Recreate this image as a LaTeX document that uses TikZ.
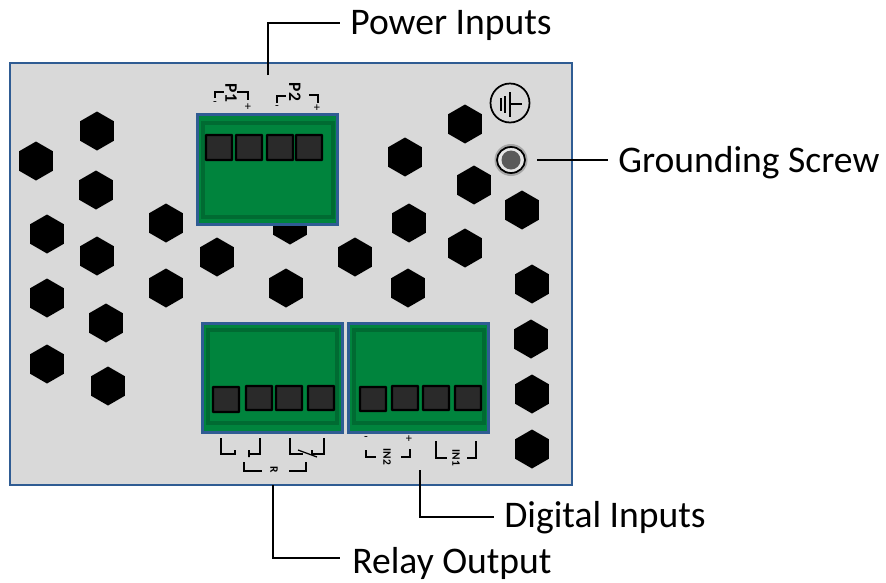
\documentclass[tikz,border=0pt]{standalone}
\usepackage{fontspec}
\setmainfont{Carlito}
\usetikzlibrary{shapes.geometric}
\tikzset{
	panel/.style={draw=panelblue, line width=0.55mm, fill=panelgray},
	hexhole/.style={regular polygon, regular polygon sides=6, regular polygon rotate=30, fill=black, minimum size=0.78cm, inner sep=0pt},
	blockouter/.style={draw=panelblue, line width=0.6mm, fill=blockgreen},
	blockinner/.style={draw=blockdark, line width=0.7mm},
	pinbox/.style={draw=black, line width=0.45mm, fill=pingray, rounded corners=0.1mm},
	leader/.style={draw=black, line width=0.35mm},
	tinyline/.style={draw=black, line width=0.25mm},
	biglabel/.style={font=\fontsize{21.4}{24}\selectfont, anchor=west, inner sep=0pt, inner xsep=0.2cm},
	pinlabel/.style={font=\fontsize{10}{11}\selectfont\bfseries, rotate=-90, inner sep=0pt},
	signlabel/.style={font=\fontsize{7}{8}\selectfont, inner sep=0pt},
	tinylabel/.style={font=\fontsize{6.5}{7}\selectfont\bfseries, rotate=-90, inner sep=0pt}
}
\definecolor{panelblue}{HTML}{2F5C93}
\definecolor{panelgray}{HTML}{D9D9D9}
\definecolor{blockgreen}{HTML}{00843D}
\definecolor{blockdark}{HTML}{006B32}
\definecolor{pingray}{HTML}{2A2A2A}
\definecolor{screwgray}{HTML}{5A5A5A}
\begin{document}
\begin{tikzpicture}[x=0.02cm, y=-0.02cm]
	\useasboundingbox (0, 0) rectangle (886, 582);

	% housing
	\draw[panel] (10, 63) rectangle (572, 485);

	% vent holes
	\foreach \hx/\hy in {97/131, 36/161, 96/190, 47/234, 97/256, 47/298, 106/323, 47/364, 108/386,
		166/223, 166/288, 217/257, 290/225, 286/288, 355/257, 408/288, 409/223, 405/157,
		465/124, 474/185, 522/210, 465/248, 532/284, 531/339, 532/394, 532/449}
		\node[hexhole] at (\hx, \hy) {};

	% power terminal
	\draw[blockouter] (197, 114) rectangle (337, 224);
	\draw[blockinner] (203, 123) rectangle (333, 217);
	\foreach \px in {206, 236, 267, 296}
		\draw[pinbox] (\px, 135) rectangle ++(26, 25);

	% relay terminal
	\draw[blockouter] (202, 323) rectangle (342, 432);
	\draw[blockinner] (208, 330) rectangle (337, 423);
	\draw[pinbox] (213, 387) rectangle ++(26, 25);
	\foreach \px in {246, 276, 308}
		\draw[pinbox] (\px, 386) rectangle ++(26, 24);

	% digital terminal
	\draw[blockouter] (348, 323) rectangle (488, 432);
	\draw[blockinner] (354, 330) rectangle (484, 423);
	\draw[pinbox] (360, 387) rectangle ++(26, 24);
	\foreach \px in {392, 423, 455}
		\draw[pinbox] (\px, 386) rectangle ++(26, 24);

	% power markings
	\draw[tinyline] (215, 98) -- (215, 92) -- (224, 92);
	\draw[tinyline] (237, 92) -- (248, 92) -- (248, 100);
	\draw[tinyline] (277, 103) -- (277, 96) -- (286, 96);
	\draw[tinyline] (309, 95) -- (318, 95) -- (318, 103);
	\node[pinlabel] (pone) at (231, 93) {P1};
	\node[pinlabel] (ptwo) at (295, 92) {P2};
	\node[signlabel] (poneminus) at (215, 104) {-};
	\node[signlabel] (poneplus) at (248, 107) {+};
	\node[signlabel] (ptwominus) at (277, 108) {-};
	\node[signlabel] (ptwoplus) at (317, 108) {+};

	% relay markings
	\draw[tinyline] (221, 438) -- (221, 454) -- (235, 454) -- (235, 450);
	\draw[tinyline] (260, 438) -- (260, 454) -- (249, 454) -- (249, 457) -- (249, 450);
	\draw[tinyline] (290, 438) -- (290, 454) -- (303, 454);
	\draw[tinyline] (324, 438) -- (324, 454) -- (312, 454) -- (312, 450);
	\draw[tinyline] (298, 450) -- (317, 457);
	\draw[tinyline] (244, 462) -- (244, 471) -- (262, 471);
	\draw[tinyline] (289, 471) -- (306, 471) -- (306, 462);
	\node[tinylabel] (relayr) at (274, 470) {R};

	% digital markings
	\draw[tinyline] (366, 450) -- (366, 457) -- (376, 457);
	\draw[tinyline] (410, 449) -- (410, 457) -- (401, 457);
	\draw[tinyline] (436, 441) -- (436, 458) -- (447, 458);
	\draw[tinyline] (476, 441) -- (476, 458) -- (467, 458);
	\node[tinylabel] (intwo) at (387, 457) {IN2};
	\node[tinylabel] (inone) at (456, 458) {IN1};
	\node[signlabel] (intwominus) at (366, 439) {-};
	\node[signlabel] (intwoplus) at (409, 439) {+};

	% ground symbol
	\draw[line width=0.35mm] (510, 103) circle (19.5);
	\draw[line width=0.25mm] (510, 104) -- (522, 104);
	\draw[line width=0.25mm] (510, 92) -- (510, 117);
	\draw[line width=0.25mm] (505, 96) -- (505, 113);
	\draw[line width=0.25mm] (501, 98) -- (501, 111);

	% screw
	\fill[black!35] (511, 160) ellipse (16.5 and 16);
	\draw[line width=0.35mm, fill=white!90!black] (511, 160) ellipse (14 and 13);
	\fill[screwgray] (511, 160) circle (9.5);

	% callouts
	\node[biglabel] (powerlabel) at (340, 25) {Power Inputs};
	\node[biglabel] (groundlabel) at (608, 163) {Grounding Screw};
	\node[biglabel] (digitallabel) at (494, 518) {Digital Inputs};
	\node[biglabel] (relaylabel) at (342, 563) {Relay Output};
	\coordinate (powerfoot) at (268, 75);
	\coordinate (groundfoot) at (537, 160);
	\coordinate (digitalfoot) at (420, 470);
	\coordinate (relayfoot) at (273, 485);
	\draw[leader] (powerfoot) |- (340, 23);
	\draw[leader] (groundfoot) -- (608, 160);
	\draw[leader] (digitalfoot) |- (494, 517);
	\draw[leader] (relayfoot) |- (340, 558);
\end{tikzpicture}
\end{document}
